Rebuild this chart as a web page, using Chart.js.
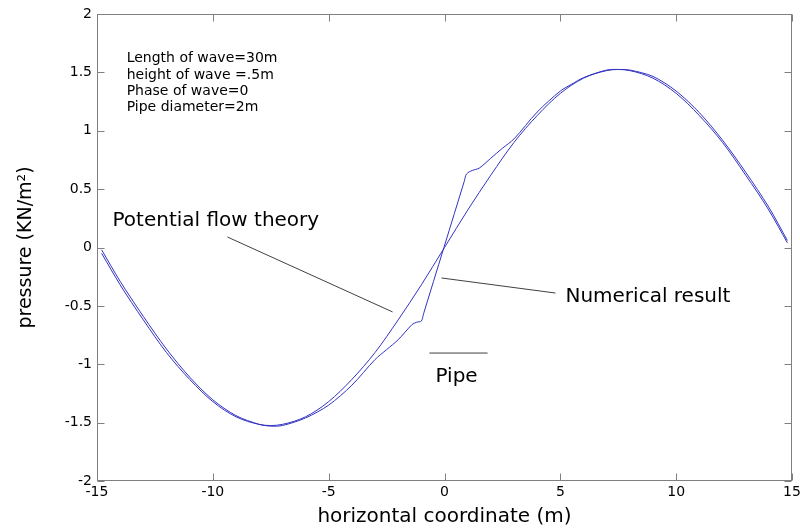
<!DOCTYPE html>
<html>
<head>
<meta charset="utf-8">
<script src="https://cdn.jsdelivr.net/npm/chart.js@4.4.1/dist/chart.umd.min.js"></script>
<style>
html, body { margin: 0; padding: 0; background: #fff; }
</style>
</head>
<body>
<canvas id="pressureChart" width="800" height="531"></canvas>
<script>
// potential flow theory (smooth wave)
var xPotential = [-14.8, -14, -13, -12, -11, -10, -9, -8, -7.5, -7, -6, -5, -4, -3, -2, -1, 0,
                  1, 2, 3, 4, 5, 6, 7, 7.5, 8, 9, 10, 11, 12, 13, 14, 14.8];
var pPotential = [-0.05, -0.32, -0.62, -0.9, -1.13, -1.32, -1.45, -1.515, -1.525, -1.515, -1.45, -1.32, -1.13, -0.9, -0.62, -0.32, 0,
                  0.32, 0.62, 0.9, 1.13, 1.32, 1.45, 1.515, 1.525, 1.515, 1.45, 1.32, 1.13, 0.9, 0.62, 0.32, 0.04];

// numerical result (with the jump across the pipe)
var xNumerical = [-14.8, -14, -13, -12, -11, -10, -9, -8, -7.5, -7, -6, -5, -4, -3, -2.5, -2, -1.4, -1.2, -1, -0.9,
                  0.85, 0.95, 1.2, 1.5, 2, 2.5, 3, 4, 5, 5.5, 6, 7, 7.5, 8, 9, 10, 11, 12, 13, 14, 14.8];
var pNumerical = [-0.02, -0.29, -0.59, -0.87, -1.11, -1.305, -1.44, -1.515, -1.53, -1.525, -1.46, -1.35, -1.18, -0.96, -0.875, -0.79, -0.66, -0.64, -0.63, -0.565,
                  0.565, 0.63, 0.66, 0.68, 0.765, 0.85, 0.93, 1.16, 1.34, 1.40, 1.455, 1.52, 1.525, 1.52, 1.465, 1.34, 1.155, 0.92, 0.645, 0.345, 0.06];

var xTicks = [-15, -10, -5, 0, 5, 10, 15];
var yTicks = [-2, -1.5, -1, -0.5, 0, 0.5, 1, 1.5, 2];

var infoLines = ["Length of wave=30m", "height of wave =.5m", "Phase of wave=0", "Pipe diameter=2m"];

function toPoints(xs, ys) {
    return xs.map(function (x, i) { return { x: x, y: ys[i] }; });
}

var lineBlue = "rgb(50,50,195)";

// labels, pointer lines and box drawn on top of the plot
var annotate = {
    id: "annotate",
    afterDraw: function (chart) {
        var ctx = chart.ctx;
        var a = chart.chartArea;
        var sx = chart.scales.x, sy = chart.scales.y;
        function px(v) { return sx.getPixelForValue(v); }
        function py(v) { return sy.getPixelForValue(v); }

        ctx.save();
        // axes box and inward ticks
        ctx.strokeStyle = "#808080";
        ctx.lineWidth = 1;
        var L = Math.round(a.left) + 0.5, R = Math.round(a.right) - 0.5;
        var T = Math.round(a.top) + 0.5, B = Math.round(a.bottom) - 0.5;
        ctx.strokeRect(L, T, R - L, B - T);
        ctx.beginPath();
        xTicks.forEach(function (v) {
            var x = Math.round(px(v)) + 0.5;
            ctx.moveTo(x, B); ctx.lineTo(x, B - 7);
            ctx.moveTo(x, T); ctx.lineTo(x, T + 7);
        });
        yTicks.forEach(function (v) {
            var y = Math.round(py(v)) + 0.5;
            ctx.moveTo(L, y); ctx.lineTo(L + 7, y);
            ctx.moveTo(R, y); ctx.lineTo(R - 7, y);
        });
        ctx.stroke();

        // pointer lines
        ctx.strokeStyle = "#404040";
        ctx.beginPath();
        ctx.moveTo(px(-9.37), py(0.09)); ctx.lineTo(px(-2.24), py(-0.552));
        ctx.moveTo(px(-0.13), py(-0.261)); ctx.lineTo(px(4.79), py(-0.39));
        ctx.moveTo(px(-0.65), py(-0.904)); ctx.lineTo(px(1.86), py(-0.904));
        ctx.stroke();

        ctx.fillStyle = "#000";
        ctx.textAlign = "left";
        ctx.textBaseline = "alphabetic";
        ctx.font = '20px "DejaVu Sans"';
        ctx.fillText("Potential flow theory", px(-14.33), py(0.187));
        ctx.fillText("Numerical result", px(5.22), py(-0.467));
        ctx.fillText("Pipe", px(-0.39), py(-1.149));

        ctx.font = '14px "DejaVu Sans"';
        var infoY = [1.586, 1.446, 1.306, 1.167];
        infoLines.forEach(function (t, i) {
            ctx.fillText(t, px(-13.72), py(infoY[i]));
        });
        ctx.restore();
    }
};

var ctx = document.getElementById("pressureChart");

var chart = new Chart(ctx, {
    type: "scatter",
    data: {
        datasets: [
            {
                label: "Potential flow theory",
                data: toPoints(xPotential, pPotential),
                showLine: true,
                borderColor: lineBlue,
                borderWidth: 1,
                pointRadius: 0,
                cubicInterpolationMode: "monotone"
            },
            {
                label: "Numerical result",
                data: toPoints(xNumerical, pNumerical),
                showLine: true,
                borderColor: lineBlue,
                borderWidth: 1,
                pointRadius: 0,
                tension: 0.3
            }
        ]
    },
    options: {
        responsive: false,
        animation: false,
        layout: { padding: { top: 14, right: 8, left: 0, bottom: 0 } },
        plugins: {
            legend: { display: false },
            tooltip: { enabled: false }
        },
        scales: {
            x: {
                type: "linear",
                min: -15,
                max: 15,
                afterBuildTicks: function (s) { s.ticks = xTicks.map(function (v) { return { value: v }; }); },
                afterFit: function (s) { s.height = 50; s.paddingLeft = 0; s.paddingRight = 0; },
                grid: { display: false, drawTicks: false },
                border: { display: false },
                ticks: {
                    padding: 3,
                    color: "#000",
                    font: { family: "DejaVu Sans", size: 14 },
                    maxRotation: 0
                },
                title: {
                    display: true,
                    text: "horizontal coordinate (m)",
                    color: "#000",
                    font: { family: "DejaVu Sans", size: 20 },
                    padding: { top: 0, bottom: 2 }
                }
            },
            y: {
                type: "linear",
                min: -2,
                max: 2,
                afterBuildTicks: function (s) { s.ticks = yTicks.map(function (v) { return { value: v }; }); },
                afterFit: function (s) { s.width = 97; s.paddingTop = 0; s.paddingBottom = 0; },
                grid: { display: false, drawTicks: false },
                border: { display: false },
                ticks: {
                    padding: 5,
                    color: "#000",
                    font: { family: "DejaVu Sans", size: 14 },
                    callback: function (v) { return String(v); }
                },
                title: {
                    display: true,
                    text: "pressure (KN/m²)",
                    color: "#000",
                    font: { family: "DejaVu Sans", size: 19 },
                    padding: { top: 15, bottom: 0 }
                }
            }
        }
    },
    plugins: [annotate]
});
</script>
</body>
</html>
